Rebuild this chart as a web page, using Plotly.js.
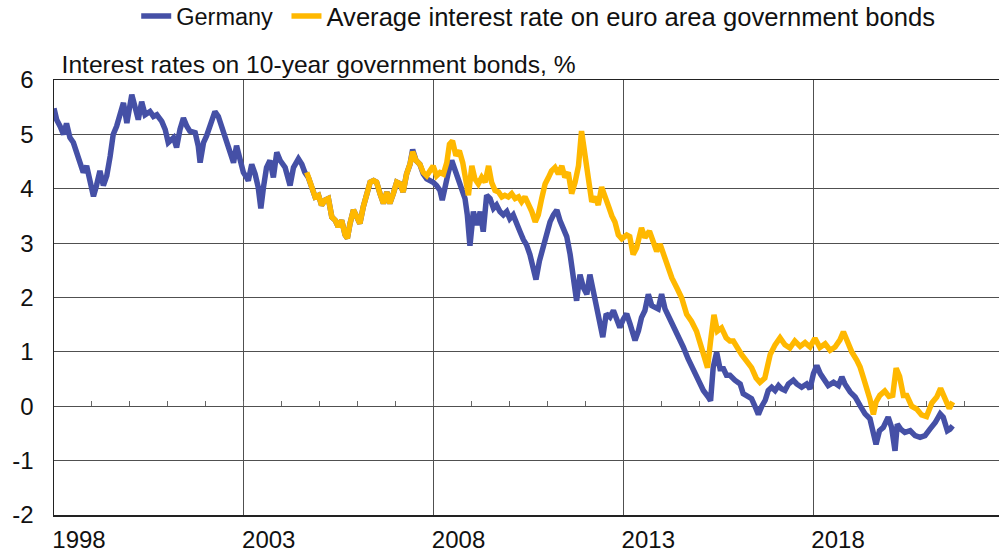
<!DOCTYPE html>
<html>
<head>
<meta charset="utf-8">
<script src="https://cdn.plot.ly/plotly-3.0.1.min.js"></script>
<style>html,body{margin:0;padding:0;background:#fff;}#chart{width:999px;height:560px;}</style>
</head>
<body>
<div id="chart"></div>
<script>
// Dates as decimal years
const deYears = [1998.00,1998.07,1998.16,1998.25,1998.33,1998.42,1998.51,1998.60,1998.69,1998.77,1998.86,1998.95,
1999.04,1999.12,1999.21,1999.30,1999.39,1999.48,1999.56,1999.65,1999.74,1999.83,1999.92,
2000.05,2000.13,2000.22,2000.31,2000.40,2000.53,2000.62,2000.71,2000.84,2000.93,
2001.01,2001.15,2001.23,2001.32,2001.41,2001.50,2001.58,2001.72,2001.80,2001.85,2001.94,
2002.02,2002.16,2002.24,2002.33,2002.42,2002.51,2002.64,2002.73,2002.81,2002.90,2002.99,
2003.08,2003.12,2003.21,2003.30,2003.38,2003.45,2003.52,2003.60,2003.69,2003.78,2003.87,2003.96,
2004.09,2004.22,2004.31,2004.44,2004.53,2004.61,2004.70,2004.79,2004.88,2004.97,
2005.05,2005.14,2005.23,2005.32,2005.41,2005.49,2005.58,2005.67,2005.73,2005.80,2005.89,2005.98,
2006.06,2006.15,2006.24,2006.33,2006.42,2006.50,2006.59,2006.68,2006.77,2006.85,2006.94,
2007.03,2007.12,2007.20,2007.29,2007.38,2007.45,2007.54,2007.64,2007.73,2007.82,2007.91,2007.99,
2008.08,2008.17,2008.23,2008.30,2008.39,2008.48,2008.57,2008.65,2008.74,2008.83,2008.89,2008.96,
2009.05,2009.14,2009.23,2009.31,2009.40,2009.49,2009.58,2009.66,2009.75,2009.84,2009.93,
2010.01,2010.10,2010.19,2010.28,2010.37,2010.45,2010.54,2010.63,2010.70,2010.79,2010.89,2010.98,
2011.07,2011.16,2011.25,2011.33,2011.42,2011.51,2011.60,2011.68,2011.77,2011.86,2011.95,
2012.04,2012.12,2012.21,2012.30,2012.39,2012.46,2012.55,2012.65,2012.74,2012.83,2012.91,
2013.00,2013.09,2013.18,2013.31,2013.40,2013.48,2013.57,2013.66,2013.75,2013.84,2013.92,
2014.01,2014.10,2014.19,2014.32,2014.45,2014.58,2014.71,2014.85,2014.98,
2015.11,2015.24,2015.30,2015.37,2015.46,2015.55,2015.64,2015.72,2015.81,2015.94,
2016.08,2016.16,2016.25,2016.38,2016.47,2016.56,2016.65,2016.74,2016.82,2016.91,
2017.00,2017.09,2017.17,2017.26,2017.35,2017.48,2017.57,2017.70,2017.83,2017.92,
2018.01,2018.10,2018.19,2018.27,2018.40,2018.54,2018.67,2018.76,2018.84,2018.98,
2019.11,2019.24,2019.37,2019.50,2019.59,2019.66,2019.75,2019.85,2019.98,
2020.07,2020.16,2020.22,2020.31,2020.42,2020.56,2020.69,2020.82,2020.95,
2021.08,2021.22,2021.35,2021.43,2021.54,2021.61,2021.68];
const deRates = [5.48,5.27,5.15,5.00,5.20,4.94,4.85,4.67,4.48,4.30,4.42,4.12,
3.86,4.06,4.33,4.06,4.24,4.60,5.00,5.15,5.33,5.58,5.21,
5.73,5.52,5.27,5.60,5.36,5.42,5.33,5.36,5.24,5.09,
4.85,4.94,4.76,5.09,5.30,5.15,5.06,5.03,4.79,4.48,4.85,
4.97,5.27,5.42,5.33,5.15,4.97,4.73,4.48,4.79,4.55,4.30,
4.20,4.15,4.45,4.27,4.03,3.64,4.03,4.39,4.52,4.21,4.67,4.52,
4.39,4.06,4.39,4.55,4.45,4.30,4.21,4.06,3.85,3.88,
3.70,3.79,3.82,3.48,3.42,3.30,3.42,3.15,3.09,3.36,3.61,3.48,
3.36,3.67,3.94,4.12,4.15,4.12,3.91,3.73,3.94,3.73,3.91,
4.12,4.09,3.94,4.27,4.45,4.72,4.52,4.45,4.27,4.18,4.15,4.12,
4.06,3.97,3.79,4.06,4.30,4.52,4.33,4.24,4.03,3.82,3.52,2.95,
3.58,3.33,3.58,3.21,3.88,3.82,3.64,3.70,3.58,3.52,3.58,
3.45,3.52,3.33,3.21,3.06,2.97,2.79,2.55,2.33,2.67,2.91,3.21,
3.39,3.52,3.61,3.42,3.27,3.12,2.79,2.30,1.94,2.42,2.18,
2.06,2.42,2.12,1.82,1.58,1.27,1.70,1.64,1.76,1.58,1.45,
1.60,1.70,1.51,1.21,1.39,1.63,1.76,2.06,1.85,1.82,1.79,
2.06,1.79,1.66,1.48,1.27,1.09,0.87,0.66,0.48,
0.29,0.17,0.10,0.72,0.99,0.69,0.69,0.57,0.57,0.48,
0.41,0.23,0.20,0.14,0.00,-0.15,0.00,0.11,0.29,0.35,
0.29,0.38,0.32,0.29,0.41,0.48,0.41,0.35,0.41,0.32,
0.60,0.75,0.60,0.51,0.38,0.44,0.38,0.54,0.41,0.26,
0.17,0.01,-0.14,-0.23,-0.51,-0.70,-0.45,-0.39,-0.20,
-0.39,-0.82,-0.33,-0.42,-0.48,-0.45,-0.54,-0.57,-0.54,
-0.42,-0.30,-0.14,-0.20,-0.45,-0.42,-0.36];

const euYears = [2004.66,2004.70,2004.79,2004.88,2004.97,
2005.05,2005.14,2005.23,2005.32,2005.41,2005.49,2005.58,2005.67,2005.73,2005.80,2005.89,2005.98,
2006.06,2006.15,2006.24,2006.33,2006.42,2006.50,2006.59,2006.68,2006.77,2006.85,2006.94,
2007.03,2007.12,2007.20,2007.29,2007.38,2007.45,2007.54,2007.64,2007.73,2007.82,2007.91,2007.99,
2008.08,2008.17,2008.26,2008.35,2008.42,2008.50,2008.59,2008.68,2008.77,2008.86,2008.92,
2009.01,2009.09,2009.18,2009.27,2009.36,2009.45,2009.53,2009.62,2009.71,2009.80,2009.88,2009.97,
2010.06,2010.15,2010.24,2010.32,2010.41,2010.50,2010.59,2010.68,2010.76,2010.85,2010.94,
2011.03,2011.11,2011.20,2011.29,2011.38,2011.46,2011.55,2011.64,2011.73,2011.82,2011.90,2011.99,
2012.08,2012.17,2012.26,2012.34,2012.43,2012.52,2012.61,2012.70,2012.78,2012.87,2012.96,
2013.09,2013.17,2013.26,2013.35,2013.48,2013.57,2013.69,2013.79,2013.88,2013.97,
2014.06,2014.14,2014.28,2014.41,2014.54,2014.67,2014.80,2014.93,
2015.06,2015.15,2015.22,2015.30,2015.39,2015.48,2015.59,2015.71,2015.81,2015.90,
2016.00,2016.12,2016.25,2016.38,2016.50,2016.60,2016.73,2016.87,
2017.00,2017.13,2017.26,2017.39,2017.52,2017.66,2017.79,2017.92,
2018.05,2018.18,2018.32,2018.45,2018.58,2018.71,2018.80,2018.89,
2019.02,2019.15,2019.24,2019.33,2019.41,2019.50,2019.59,2019.66,2019.76,2019.89,
2020.00,2020.10,2020.19,2020.28,2020.38,2020.47,2020.60,2020.73,2020.86,2020.99,
2021.13,2021.26,2021.36,2021.48,2021.59,2021.68];
const euRates = [4.30,4.21,4.06,3.85,3.88,
3.70,3.79,3.82,3.48,3.42,3.30,3.42,3.15,3.09,3.36,3.61,3.48,
3.36,3.67,3.94,4.12,4.15,4.12,3.91,3.73,3.94,3.73,3.91,
4.12,4.09,3.94,4.27,4.45,4.68,4.52,4.45,4.30,4.24,4.33,4.42,
4.24,4.30,4.27,4.48,4.82,4.88,4.61,4.70,4.48,4.12,3.88,
4.42,4.18,4.09,4.21,4.12,4.42,4.12,3.97,3.94,3.85,3.88,3.85,
3.91,3.82,3.85,3.76,3.85,3.73,3.58,3.39,3.52,3.82,4.09,
4.21,4.33,4.39,4.27,4.42,4.21,4.30,3.91,4.12,4.42,5.06,4.61,
4.12,3.76,3.85,3.70,4.03,3.82,3.68,3.50,3.39,3.15,3.08,
3.15,3.12,2.79,2.91,3.28,3.10,3.22,3.04,2.85,2.98,
2.79,2.61,2.36,2.18,1.99,1.69,1.56,1.38,
1.07,0.83,0.71,1.20,1.68,1.38,1.44,1.26,1.20,1.20,
1.07,0.95,0.83,0.71,0.52,0.44,0.52,0.95,
1.13,1.26,1.13,1.07,1.20,1.10,1.17,1.09,
1.25,1.08,1.15,1.03,1.09,1.22,1.37,1.22,
1.00,0.85,0.72,0.52,0.35,0.13,-0.15,0.08,0.20,0.28,
0.18,0.20,0.70,0.55,0.20,0.20,0.00,-0.05,-0.16,-0.19,
0.06,0.17,0.33,0.11,-0.04,0.08];

const seriesNames = ['Germany', 'Average interest rate on euro area government bonds'];
const chartTitle = 'Interest rates on 10-year government bonds, %';
const xTicks = [1998, 2003, 2008, 2013, 2018];
const yTicks = [-2, -1, 0, 1, 2, 3, 4, 5, 6];
const yTickText = ['-2', '-1', '0', '1', '2', '3', '4', '5', '6'];

const FONT = 'Liberation Sans, Arial, sans-serif';
const xRange = [1998, 2022.9];

const traces = [
  {x: deYears, y: deRates, name: seriesNames[0], type: 'scatter', mode: 'lines',
   line: {color: '#4550A6', width: 5.5}, xaxis: 'x', yaxis: 'y', legend: 'legend'},
  {x: euYears, y: euRates, name: seriesNames[1], type: 'scatter', mode: 'lines',
   line: {color: '#FFB800', width: 5.5}, xaxis: 'x2', yaxis: 'y', legend: 'legend2'}
];

const legendBase = {orientation: 'h', xanchor: 'left', yref: 'container', y: 0.971, yanchor: 'middle',
                    bgcolor: 'rgba(0,0,0,0)'};

const layout = {
  width: 999, height: 560,
  margin: {l: 54, r: 0, t: 80, b: 45},
  paper_bgcolor: '#fff', plot_bgcolor: '#fff',
  font: {family: FONT, color: '#111', size: 24},
  showlegend: true,
  legend: Object.assign({}, legendBase, {x: 0.087, font: {family: FONT, size: 23.5, color: '#111'}}),
  legend2: Object.assign({}, legendBase, {x: 0.246, font: {family: FONT, size: 25.6, color: '#111'}}),
  title: {text: chartTitle, font: {family: FONT, size: 24.6, color: '#111'},
          xref: 'paper', x: 0.008, xanchor: 'left', yref: 'container', y: 0.885, yanchor: 'middle'},
  xaxis: {range: xRange, tickvals: xTicks, ticktext: xTicks.map(String), ticks: '',
          showgrid: true, gridcolor: '#505050', gridwidth: 1,
          showline: true, linecolor: '#222', linewidth: 1.5, mirror: true,
          zeroline: false, ticklabelshift: 25, ticklabelstandoff: 3,
          tickfont: {family: FONT, size: 24, color: '#111'}},
  xaxis2: {range: xRange, overlaying: 'x', anchor: 'free', position: 0.25, side: 'bottom',
           tick0: 1998, dtick: 1, ticks: 'inside', ticklen: 5, tickcolor: '#666', tickwidth: 1,
           showticklabels: false, showgrid: false, showline: false, zeroline: false},
  yaxis: {range: [-2, 6], tickvals: yTicks, ticktext: yTickText, ticks: '', showgrid: true, gridcolor: '#505050', gridwidth: 1,
          showline: true, linecolor: '#222', linewidth: 1.5, zeroline: false,
          ticklabelstandoff: 14, tickfont: {family: FONT, size: 24, color: '#111'}}
};

Plotly.newPlot('chart', traces, layout, {displayModeBar: false, staticPlot: true});
</script>
</body>
</html>
